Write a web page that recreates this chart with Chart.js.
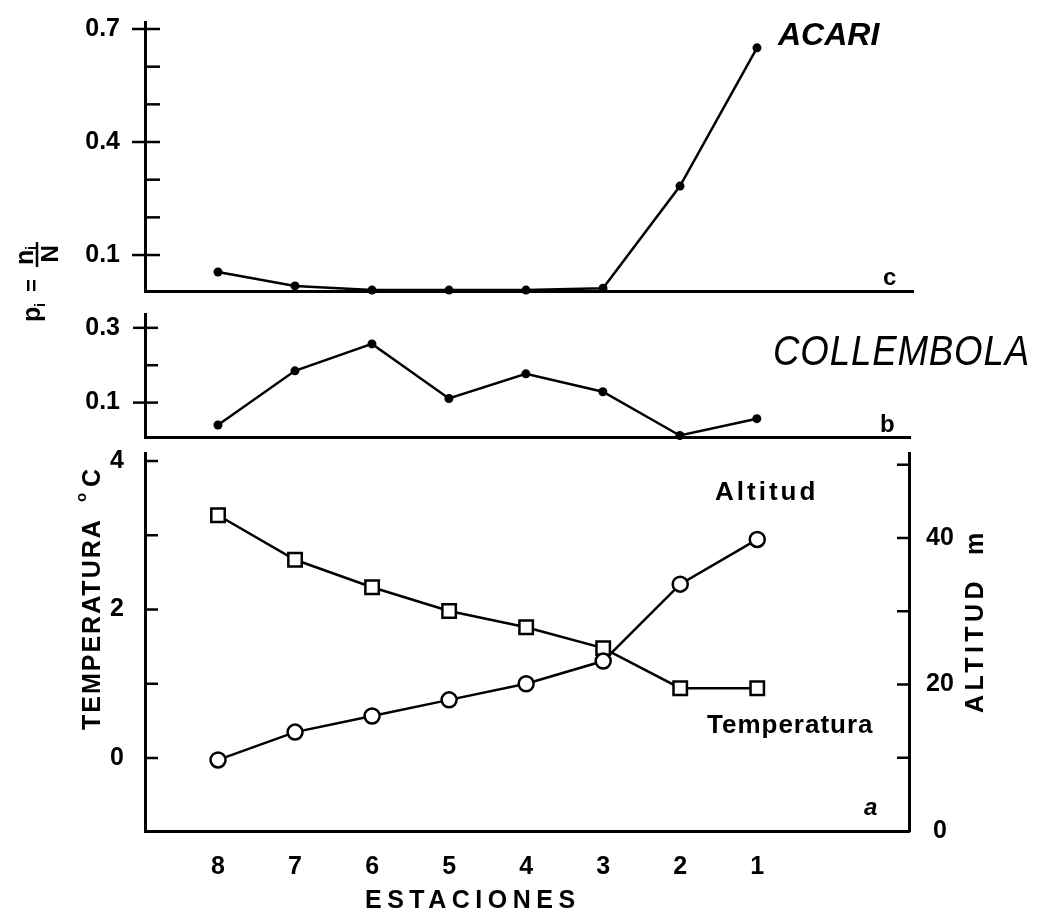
<!DOCTYPE html>
<html><head><meta charset="utf-8">
<script src="https://cdn.jsdelivr.net/npm/chart.js@4/dist/chart.umd.min.js"></script>
<style>
html,body{margin:0;padding:0;background:#fff;width:1037px;height:911px;overflow:hidden}
canvas{position:absolute;left:0;top:0}
</style></head><body>
<canvas id="cA" width="1037" height="911"></canvas>
<canvas id="cB" width="1037" height="911"></canvas>
<canvas id="cC" width="1037" height="911"></canvas>
<script>
// ---- data ----
const stations = ['8','7','6','5','4','3','2','1'];
const acari = [0.055, 0.018, 0.007, 0.007, 0.007, 0.012, 0.283, 0.650];
const collembola = [0.040, 0.185, 0.257, 0.111, 0.177, 0.129, 0.012, 0.057];
const temperatura = [3.27, 2.67, 2.30, 1.98, 1.76, 1.48, 0.94, 0.94];
const altitud = [9.7, 13.5, 15.7, 17.9, 20.1, 23.2, 33.7, 39.8];
const acariTicks = [0.1, 0.2, 0.3, 0.4, 0.5, 0.6, 0.7];
const acariLabels = [0.1, 0.4, 0.7];
const collTicks = [0.1, 0.2, 0.3];
const collLabels = [0.1, 0.3];
const tempTicks = [0, 1, 2, 3, 4];
const tempLabels = [0, 2, 4];
const altTicks = [0, 10, 20, 30, 40, 50];
const altLabels = [0, 20, 40];

Chart.defaults.font.family = "'Liberation Sans', Arial, sans-serif";
Chart.defaults.color = '#000';
Chart.defaults.animation = false;

const has = (arr, v) => arr.some(a => Math.abs(a - v) < 1e-9);
const pts = vals => stations.map((s, i) => ({x: i + 1, y: vals[i]}));
const noPad = s => { s.paddingTop = 0; s.paddingBottom = 0; s.paddingLeft = 0; s.paddingRight = 0; };

function tickMarks(list) {
  return { id: 'tickMarks', afterDraw(chart) {
    const ctx = chart.ctx;
    ctx.save(); ctx.strokeStyle = '#000'; ctx.lineWidth = 2.5;
    for (const t of list) {
      const s = chart.scales[t.axis];
      const dir = t.side === 'left' ? 1 : -1;
      const ax = t.side === 'left' ? s.right : s.left;
      for (const v of t.values) {
        if (t.skip && has(t.skip, v)) continue;
        const y = s.getPixelForValue(v);
        const major = t.major && has(t.major, v);
        ctx.beginPath();
        ctx.moveTo(ax - dir * (major ? t.out : 0), y);
        ctx.lineTo(ax + dir * t.len, y);
        ctx.stroke();
      }
    }
    ctx.restore();
  }};
}

function texts(groups) {
  return { id: 'texts', afterDraw(chart) {
    const ctx = chart.ctx;
    for (const g of groups) {
      ctx.save();
      ctx.translate(g.x, g.y);
      if (g.rot) ctx.rotate(g.rot);
      ctx.fillStyle = '#000'; ctx.strokeStyle = '#000';
      ctx.textBaseline = 'alphabetic'; ctx.textAlign = 'left';
      for (const it of g.items) {
        if (it.line) {
          ctx.lineWidth = 2.5; ctx.beginPath();
          ctx.moveTo(it.line[0], it.line[1]); ctx.lineTo(it.line[2], it.line[3]); ctx.stroke();
          continue;
        }
        ctx.font = it.font;
        if ('letterSpacing' in ctx) ctx.letterSpacing = (it.ls || 0) + 'px';
        if (it.mw) ctx.fillText(it.text, it.dx || 0, it.dy || 0, it.mw);
        else ctx.fillText(it.text, it.dx || 0, it.dy || 0);
      }
      ctx.restore();
    }
  }};
}

const F = "'Liberation Sans', Arial, sans-serif";
const lineDs = (vals, extra) => Object.assign({
  data: pts(vals), borderColor: '#000', borderWidth: 2.5, tension: 0, clip: false,
  pointStyle: 'circle', pointRadius: 4.5, pointHoverRadius: 4.5,
  pointBackgroundColor: '#000', pointBorderColor: '#000', pointBorderWidth: 0
}, extra || {});

const xScale = (max, h, extra) => Object.assign({
  type: 'linear', min: 0.052, max: max,
  grid: {display: false, drawTicks: false},
  border: {display: true, color: '#000', width: 3},
  ticks: {display: false},
  afterBuildTicks: s => { s.ticks = stations.map((_, i) => ({value: i + 1})); },
  afterFit: s => { s.height = h; noPad(s); }
}, extra || {});

// ---- Chart A: ACARI ----
new Chart(document.getElementById('cA'), {
  type: 'line',
  data: {datasets: [lineDs(acari)]},
  options: {
    responsive: false, devicePixelRatio: 1, events: [],
    layout: {padding: {left: 0, top: 22, right: 124, bottom: 620}},
    plugins: {legend: {display: false}, tooltip: {enabled: false}},
    scales: {
      x: xScale(10.026, 0),
      y: {
        type: 'linear', min: 0.0045, max: 0.7186,
        grid: {display: false, drawTicks: false},
        border: {display: true, color: '#000', width: 3},
        ticks: {padding: 25, font: {size: 25, weight: 'bold'},
          callback: v => has(acariLabels, v) ? v.toFixed(1) : ''},
        afterBuildTicks: s => { s.ticks = acariTicks.map(v => ({value: v})); },
        afterFit: s => { s.width = 145; noPad(s); }
      }
    }
  },
  plugins: [
    tickMarks([{axis: 'y', side: 'left', values: acariTicks, major: acariLabels, out: 13, len: 15}]),
    texts([
      {x: 778, y: 45, items: [{text: 'ACARI', font: 'italic bold 32px ' + F}]},
      {x: 883, y: 285, items: [{text: 'c', font: 'bold 24px ' + F}]},
      {x: 40, y: 322, rot: -Math.PI / 2, items: [
        {text: 'p', font: 'bold 25px ' + F},
        {text: 'i', dx: 15, dy: 5, font: 'bold 15px ' + F},
        {text: '=', dx: 30, dy: -1, font: 'bold 22px ' + F},
        {text: 'n', dx: 57, dy: -7, font: 'bold 25px ' + F},
        {text: 'i', dx: 72, dy: -4, font: 'bold 14px ' + F},
        {line: [55, -3, 80, -3]},
        {text: 'N', dx: 59.5, dy: 18, font: 'bold 24px ' + F}
      ]}
    ])
  ]
});

// ---- Chart B: COLLEMBOLA ----
new Chart(document.getElementById('cB'), {
  type: 'line',
  data: {datasets: [lineDs(collembola)]},
  options: {
    responsive: false, devicePixelRatio: 1, events: [],
    layout: {padding: {left: 0, top: 314, right: 127, bottom: 474}},
    plugins: {legend: {display: false}, tooltip: {enabled: false}},
    scales: {
      x: xScale(9.99, 0),
      y: {
        type: 'linear', min: 0.008, max: 0.337,
        grid: {display: false, drawTicks: false},
        border: {display: true, color: '#000', width: 3},
        ticks: {padding: 25, font: {size: 25, weight: 'bold'},
          callback: v => has(collLabels, v) ? v.toFixed(1) : ''},
        afterBuildTicks: s => { s.ticks = collTicks.map(v => ({value: v})); },
        afterFit: s => { s.width = 145; noPad(s); }
      }
    }
  },
  plugins: [
    tickMarks([{axis: 'y', side: 'left', values: collTicks, major: collLabels, out: 12, len: 13}]),
    texts([
      {x: 773, y: 365, items: [{text: 'COLLEMBOLA', font: 'italic 43px ' + F, mw: 257, ls: 1}]},
      {x: 880, y: 432, items: [{text: 'b', font: 'bold 24px ' + F}]}
    ])
  ]
});

// ---- Chart C: Temperatura / Altitud ----
new Chart(document.getElementById('cC'), {
  type: 'line',
  data: {datasets: [
    lineDs(altitud, {yAxisID: 'y2', pointRadius: 7.5, pointHoverRadius: 7.5,
      pointBackgroundColor: '#fff', pointBorderWidth: 2.5}),
    lineDs(temperatura, {yAxisID: 'y', pointStyle: 'rect', pointRadius: 9.5, pointHoverRadius: 9.5,
      pointBackgroundColor: '#fff', pointBorderWidth: 2.5})
  ]},
  options: {
    responsive: false, devicePixelRatio: 1, events: [],
    layout: {padding: {left: 0, top: 453, right: 0, bottom: 0}},
    plugins: {legend: {display: false}, tooltip: {enabled: false}},
    scales: {
      x: xScale(9.97, 80, {
        ticks: {display: true, padding: 21, autoSkip: false, maxRotation: 0,
          font: {size: 25, weight: 'bold'},
          callback: v => stations[Math.round(v) - 1] || ''}
      }),
      y: {
        type: 'linear', position: 'left', min: -0.983, max: 4.108,
        grid: {display: false, drawTicks: false},
        border: {display: true, color: '#000', width: 3},
        ticks: {padding: 21, font: {size: 25, weight: 'bold'},
          callback: v => has(tempLabels, v) ? String(v) : ''},
        afterBuildTicks: s => { s.ticks = tempTicks.map(v => ({value: v})); },
        afterFit: s => { s.width = 145; noPad(s); }
      },
      y2: {
        type: 'linear', position: 'right', min: 0, max: 51.6,
        grid: {display: false, drawTicks: false},
        border: {display: true, color: '#000', width: 3},
        ticks: {padding: 17, crossAlign: 'center', font: {size: 25, weight: 'bold'},
          callback: v => has(altLabels, v) ? String(v) : ''},
        afterBuildTicks: s => { s.ticks = altTicks.map(v => ({value: v})); },
        afterFit: s => { s.width = 128; noPad(s); }
      }
    }
  },
  plugins: [
    tickMarks([
      {axis: 'y', side: 'left', values: tempTicks, out: 0, len: 13},
      {axis: 'y2', side: 'right', values: altTicks, skip: [0], out: 0, len: 12}
    ]),
    texts([
      {x: 715, y: 500, items: [{text: 'Altitud', font: 'bold 26px ' + F, ls: 3}]},
      {x: 707, y: 733, items: [{text: 'Temperatura', font: 'bold 26px ' + F, ls: 1}]},
      {x: 864, y: 815, items: [{text: 'a', font: 'italic bold 24px ' + F}]},
      {x: 365, y: 908, items: [{text: 'ESTACIONES', font: 'bold 25px ' + F, ls: 5.5}]},
      {x: 100, y: 730, rot: -Math.PI / 2, items: [
        {text: 'TEMPERATURA', font: 'bold 25px ' + F, ls: 2},
        {text: 'o', dx: 228, dy: -14, font: 'bold 15px ' + F},
        {text: 'C', dx: 243, dy: 0, font: 'bold 25px ' + F}
      ]},
      {x: 983, y: 713, rot: -Math.PI / 2, items: [
        {text: 'ALTITUD', font: 'bold 25px ' + F, ls: 4.4},
        {text: 'm', dx: 158, dy: 0, font: 'bold 25px ' + F}
      ]}
    ])
  ]
});
</script>
</body></html>
